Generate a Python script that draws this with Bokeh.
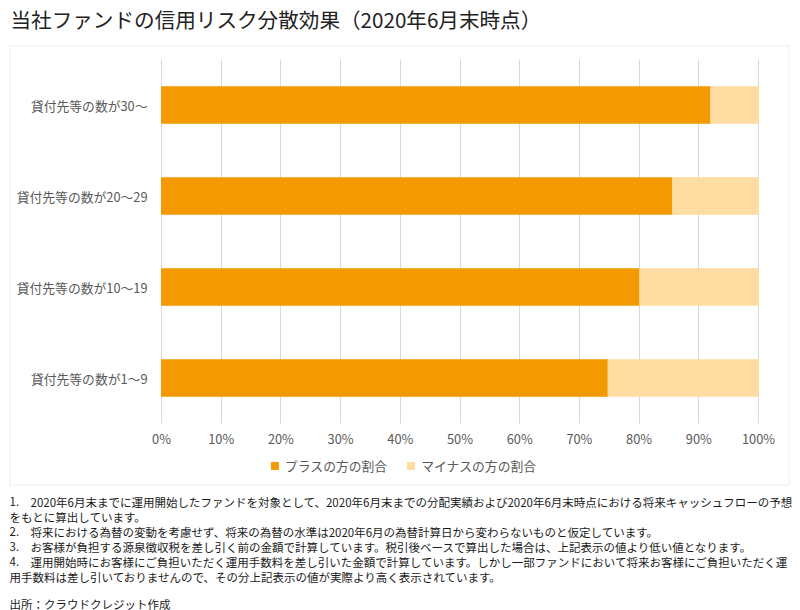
from bokeh.plotting import figure
from bokeh.models import (ColumnDataSource, Range1d, FixedTicker, NumeralTickFormatter,
                          Label, Legend, LegendItem, BoxAnnotation)
from bokeh.embed import file_html
from bokeh.resources import INLINE

# ---------------- data ----------------
categories = ["貸付先等の数が1～9", "貸付先等の数が10～19", "貸付先等の数が20～29", "貸付先等の数が30～"]
plus_share = [0.748, 0.801, 0.856, 0.920]
minus_share = [0.252, 0.199, 0.144, 0.080]
series_names = ["プラスの方の割合", "マイナスの方の割合"]
x_ticks = [0.0, 0.1, 0.2, 0.3, 0.4, 0.5, 0.6, 0.7, 0.8, 0.9, 1.0]

title_text = "当社ファンドの信用リスク分散効果（2020年6月末時点）"
note_numbers = ["1.", "", "2.", "3.", "4.", ""]
note_texts = [
    "2020年6月末までに運用開始したファンドを対象として、2020年6月末までの分配実績および2020年6月末時点における将来キャッシュフローの予想",
    "をもとに算出しています。",
    "将来における為替の変動を考慮せず、将来の為替の水準は2020年6月の為替計算日から変わらないものと仮定しています。",
    "お客様が負担する源泉徴収税を差し引く前の金額で計算しています。税引後ベースで算出した場合は、上記表示の値より低い値となります。",
    "運用開始時にお客様にご負担いただく運用手数料を差し引いた金額で計算しています。しかし一部ファンドにおいて将来お客様にご負担いただく運",
    "用手数料は差し引いておりませんので、その分上記表示の値が実際より高く表示されています。",
]
source_text = "出所：クラウドクレジット作成"

# ---------------- style / layout ----------------
FONT = "Noto Sans CJK JP"
PLUS_COLOR = "#F29A00"
MINUS_COLOR = "#FEDCA2"
GRID_COLOR = "#D9D9D9"
AXIS_TEXT = "#595959"
NOTE_COLOR = "#1A1A1A"
W, H = 800, 610

# plotting area in page pixels (the frame covers the whole page)
PA_LEFT, PA_RIGHT, PA_TOP, PA_BOTTOM = 161, 758, 59, 423
n = len(categories)
px_per_x = (PA_RIGHT - PA_LEFT) / 1.0
px_per_cat = (PA_BOTTOM - PA_TOP) / n
x_start = -PA_LEFT / px_per_x
x_end = 1.0 + (W - PA_RIGHT) / px_per_x
y_start = -0.5 - (H - PA_BOTTOM) / px_per_cat
y_end = n - 0.5 + PA_TOP / px_per_cat

cat_pos = list(range(n))
source = ColumnDataSource(dict(pos=cat_pos, plus=plus_share, minus=minus_share))

p = figure(width=W, height=H, x_range=Range1d(x_start, x_end), y_range=Range1d(y_start, y_end),
           output_backend="svg", toolbar_location=None, min_border=0)
p.outline_line_color = None
p.extra_x_ranges = {"page": Range1d(0, W)}
p.extra_y_ranges = {"page": Range1d(H, 0)}

bars = p.hbar_stack(["plus", "minus"], y="pos", height=0.4, color=[PLUS_COLOR, MINUS_COLOR],
                    source=source)

# axes drawn inside the page at the plotting-area edges
xax = p.xaxis[0]
yax = p.yaxis[0]
xax.fixed_location = -0.5
yax.fixed_location = 0.0
xax.ticker = FixedTicker(ticks=x_ticks)
xax.formatter = NumeralTickFormatter(format="0%")
yax.ticker = FixedTicker(ticks=cat_pos)
yax.major_label_overrides = {i: c for i, c in zip(cat_pos, categories)}
for ax in (xax, yax):
    ax.axis_line_color = None
    ax.major_tick_line_color = None
    ax.minor_tick_line_color = None
    ax.major_tick_out = 0
    ax.major_tick_in = 0
    ax.minor_tick_out = 0
    ax.minor_tick_in = 0
    ax.major_label_text_font = FONT
    ax.major_label_text_font_size = "12.8px"
    ax.major_label_text_color = AXIS_TEXT
xax.major_label_standoff = 5
yax.major_label_standoff = 14

p.ygrid.grid_line_color = None
p.xgrid.ticker = FixedTicker(ticks=x_ticks)
p.xgrid.grid_line_color = GRID_COLOR
p.xgrid.grid_line_width = 1
p.xgrid.cross_bounds = (-0.5, n - 0.5)

legend = Legend(items=[LegendItem(label=series_names[i], renderers=[bars[i]]) for i in range(2)],
                orientation="horizontal", location=(270, 135),
                glyph_width=9, glyph_height=9, label_standoff=6, spacing=19,
                label_text_font=FONT, label_text_font_size="12.8px", label_text_color=AXIS_TEXT,
                padding=0, margin=0, border_line_alpha=0, background_fill_alpha=0)
p.add_layout(legend, "center")

# outer box around the chart
p.add_layout(BoxAnnotation(left=9.5, right=788.5, top=45.5, bottom=484.5,
                           x_range_name="page", y_range_name="page",
                           fill_alpha=0, line_color="#BFBFBF", line_width=1))


def add_text(x, y, text, size, color=NOTE_COLOR):
    p.add_layout(Label(x=x, y=y, text=text, x_range_name="page", y_range_name="page",
                       text_font=FONT, text_font_size=size, text_color=color,
                       text_baseline="middle", text_align="left"))


add_text(10, 18, title_text, "20.6px", "#222222")

line_y = [501, 516, 531, 546, 561, 576]
for num, txt, yy in zip(note_numbers, note_texts, line_y):
    if num:
        add_text(9, yy, num, "11.5px")
        add_text(30, yy, txt, "11.5px")
    else:
        add_text(9, yy, txt, "11.5px")
add_text(9, 603, source_text, "11.5px")

open("out.html", "w").write(file_html(p, INLINE))
